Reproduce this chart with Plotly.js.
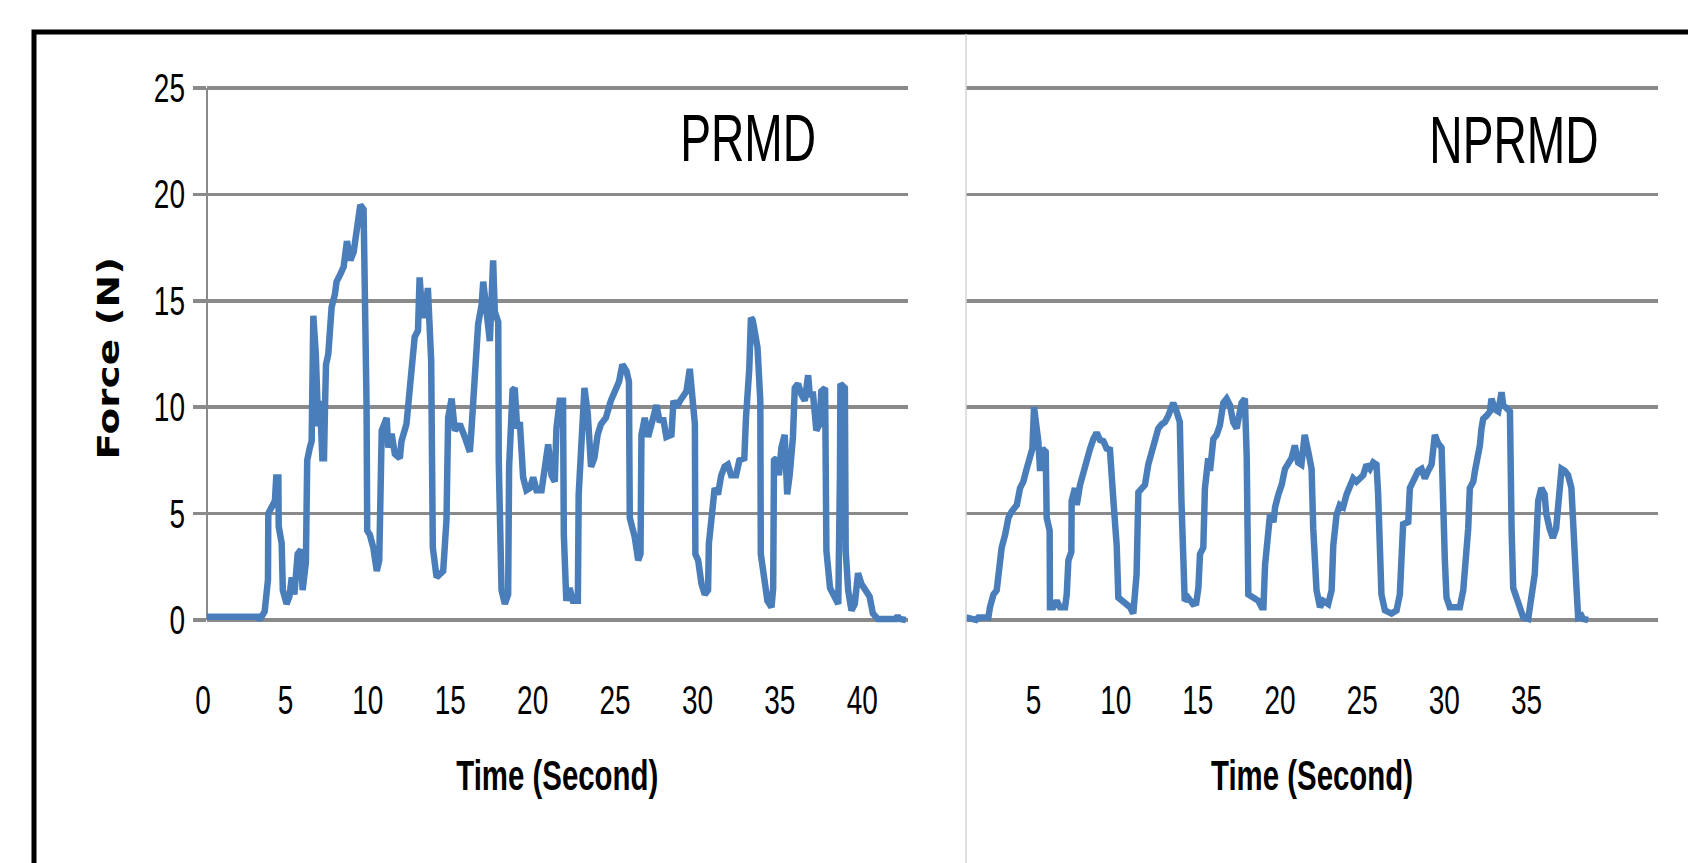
<!DOCTYPE html>
<html>
<head>
<meta charset="utf-8">
<script src="https://cdn.plot.ly/plotly-3.0.1.min.js"></script>
<style>
  html, body { margin: 0; padding: 0; background: #ffffff; }
  #chart { width: 1688px; height: 863px; }
</style>
</head>
<body>
<div id="chart"></div>
<script>
// ---- Data ----
const prmdTime = [0,3.1,3.2,3.5,3.7,3.72,3.92,4.12,4.2,4.33,4.35,4.53,4.6,4.83,5.0,5.14,5.3,5.5,5.7,5.8,6.0,6.08,6.24,6.35,6.45,6.6,6.75,6.85,7.0,7.1,7.16,7.22,7.36,7.46,7.56,7.76,7.86,8.06,8.29,8.49,8.7,8.9,9.1,9.3,9.5,9.6,9.68,9.72,9.88,10.09,10.3,10.45,10.5,10.6,10.9,11.0,11.2,11.4,11.7,11.8,12.1,12.3,12.4,12.6,12.8,12.9,13.0,13.2,13.4,13.5,13.6,13.7,13.93,14.33,14.53,14.63,14.84,15.04,15.34,15.64,15.95,16.05,16.25,16.35,16.45,16.66,16.76,16.96,17.16,17.26,17.36,17.46,17.67,17.7,17.87,18.07,18.27,18.33,18.54,18.67,18.82,18.98,19.18,19.38,19.59,19.79,19.99,20.3,20.5,20.7,20.9,21.1,21.2,21.4,21.6,21.65,21.8,22.0,22.2,22.5,22.55,22.7,22.8,22.9,23.1,23.3,23.5,23.7,23.9,24.2,24.5,24.7,25.0,25.2,25.45,25.6,25.65,25.95,26.16,26.3,26.36,26.56,26.76,26.97,27.27,27.47,27.67,27.87,28.18,28.3,28.5,28.7,28.9,29.09,29.29,29.45,29.6,29.63,29.8,30.0,30.2,30.4,30.45,30.6,30.8,31.0,31.2,31.4,31.6,31.8,32.1,32.3,32.6,32.7,32.9,33.0,33.1,33.2,33.3,33.4,33.57,33.6,33.8,34.0,34.25,34.35,34.4,34.55,34.7,34.85,35.05,35.2,35.35,35.55,35.66,35.86,36.06,36.27,36.47,36.57,36.77,36.97,37.17,37.27,37.5,37.58,37.8,38.0,38.3,38.4,38.43,38.7,38.75,38.9,39.1,39.3,39.5,39.7,39.9,40.2,40.4,40.7,41.8,41.9,42.0,42.4];
const prmdForce = [0.15,0.15,0.0,0.4,1.9,5.0,5.3,5.6,6.7,6.7,4.4,3.6,1.4,0.75,1.1,2.0,1.2,3.1,3.3,1.4,2.7,7.5,8.1,8.4,14.3,12.5,9.1,10.3,7.6,7.6,10.0,12.0,12.5,14.3,14.7,15.3,15.9,16.2,16.6,17.8,16.9,17.3,18.4,19.5,19.3,15.7,10.1,4.2,4.0,3.4,2.3,2.8,7.2,8.9,9.5,8.1,8.75,7.8,7.6,8.4,9.2,10.6,11.6,13.3,13.6,16.1,15.0,14.2,15.6,14.1,12.2,3.4,2.0,2.3,4.7,9.5,10.4,8.9,9.2,8.6,7.9,9.0,11.2,12.2,13.9,14.8,15.9,14.5,13.1,15.0,16.9,14.5,14.0,7.5,1.4,0.75,1.2,7.2,10.8,10.9,9.0,9.3,6.7,6.1,6.2,6.7,6.1,6.1,7.5,8.25,6.8,6.5,9.0,10.3,10.3,4.0,0.9,1.5,0.9,0.9,5.9,8.7,10.6,10.9,9.7,7.2,7.6,8.7,9.2,9.5,10.3,10.75,11.2,12.0,11.7,11.2,4.8,3.9,2.8,3.1,8.7,9.5,8.6,9.2,10.1,9.3,9.5,8.6,8.7,10.3,10.0,10.3,10.6,10.75,11.8,10.3,9.2,3.1,2.8,1.7,1.2,1.4,3.6,4.7,6.2,5.9,6.8,7.2,7.3,6.8,6.8,7.5,7.6,9.5,11.8,14.2,14.1,13.7,13.25,12.8,10.3,3.1,2.0,0.9,0.6,1.5,7.5,7.6,6.8,8.1,8.7,5.9,6.8,8.6,10.9,11.1,10.6,10.3,11.5,10.6,10.6,8.9,9.2,10.75,10.9,3.25,1.5,1.2,0.75,6.7,11.1,10.9,3.25,1.4,0.45,0.75,2.2,1.7,1.4,1.1,0.3,0.05,0.05,0.2,0.05,0.0];

const nprmdTime = [0.89,1.34,1.5,1.64,2.25,2.35,2.56,2.76,2.86,3.06,3.27,3.47,3.67,3.98,4.18,4.38,4.58,4.79,4.93,5.03,5.19,5.29,5.4,5.54,5.74,5.8,5.98,6.0,6.2,6.41,6.61,6.92,7.02,7.12,7.3,7.32,7.52,7.63,7.83,8.03,8.23,8.44,8.64,8.84,9.05,9.25,9.45,9.65,9.86,10.06,10.16,10.36,10.67,10.87,11.07,11.17,11.27,11.38,11.58,11.78,11.98,12.19,12.39,12.59,12.8,13.0,13.2,13.4,13.5,13.7,13.9,14.0,14.1,14.2,14.4,14.7,14.9,15.03,15.13,15.33,15.43,15.63,15.74,15.94,16.14,16.34,16.55,16.75,16.95,17.15,17.36,17.56,17.66,17.86,17.97,18.07,18.37,18.68,18.88,18.99,19.09,19.29,19.39,19.6,19.7,19.9,20.1,20.3,20.5,20.7,20.9,21.1,21.3,21.5,21.72,21.92,22.02,22.22,22.43,22.63,22.93,23.14,23.24,23.44,23.64,23.84,24.05,24.25,24.45,24.65,24.86,25.06,25.26,25.47,25.67,25.87,25.97,26.17,26.38,26.78,27.09,27.29,27.49,27.8,27.9,28.2,28.4,28.61,28.81,29.01,29.22,29.42,29.62,29.83,29.93,30.03,30.13,30.33,30.74,30.94,31.15,31.25,31.45,31.55,31.76,31.86,31.96,32.16,32.26,32.36,32.57,32.77,32.87,33.07,33.28,33.48,33.58,33.78,33.99,34.09,34.19,34.39,34.59,34.8,35.1,35.3,35.5,35.71,35.9,36.1,36.2,36.4,36.6,36.8,36.93,37.13,37.33,37.53,37.73,37.84,38.04,38.14,38.34,38.44,38.75];
const nprmdForce = [0.12,0.05,0.0,0.12,0.12,0.6,1.2,1.4,2.15,3.4,4.0,4.8,5.1,5.4,6.2,6.5,7.1,7.6,8.05,10.0,9.15,8.4,7.0,8.05,7.9,4.8,4.2,0.6,0.6,0.9,0.6,0.6,1.2,2.8,3.2,5.6,6.2,5.4,6.35,7.0,7.6,8.05,8.5,8.8,8.45,8.4,8.05,8.0,5.6,3.5,1.05,0.9,0.75,0.6,0.3,1.2,2.15,6.0,6.2,6.35,7.3,7.9,8.5,9.0,9.2,9.3,9.6,10.1,10.2,9.8,9.3,5.6,1.2,0.9,1.05,0.75,0.8,1.5,3.1,3.4,6.2,7.6,7.0,8.5,8.7,9.15,10.2,10.4,10.1,9.3,9.0,9.6,10.2,10.4,7.75,1.2,1.05,0.9,0.6,0.6,2.6,3.85,4.95,4.6,5.3,5.9,6.35,7.1,7.4,7.6,8.2,7.4,7.3,8.7,7.9,7.1,4.3,1.4,0.6,0.9,0.75,1.4,3.5,4.95,5.4,5.3,5.9,6.35,6.65,6.5,6.65,6.8,7.3,7.1,7.4,7.3,5.9,1.2,0.45,0.3,0.45,1.2,4.5,4.6,6.2,6.65,7.0,7.1,6.65,7.0,7.3,8.7,8.3,8.1,4.0,2.8,1.05,0.6,0.6,0.6,1.4,2.15,4.3,6.2,6.5,7.0,7.4,8.2,9.0,9.45,9.6,9.8,10.4,9.9,9.8,10.7,10.1,9.9,9.8,4.3,1.5,1.05,0.6,0.12,0.05,0.9,2.15,5.6,6.2,5.9,5.0,4.3,3.85,4.3,5.6,7.1,7.0,6.8,6.2,4.0,1.5,0.12,0.2,0.05,0.0];

const yTicks = [0, 5, 10, 15, 20, 25];
const xTicksLeft = [0, 5, 10, 15, 20, 25, 30, 35, 40];
const xTicksRight = [5, 10, 15, 20, 25, 30, 35];
const panelLabels = ['PRMD', 'NPRMD'];
const xTitle = 'Time (Second)';
const yTitle = 'Force (N)';

// ---- Styling ----
const W = 1688, H = 863;
const px = v => v / W;          // pixel -> paper x
const py = v => (H - v) / H;    // pixel -> paper y
const LINE = '#4a7ebb';
const GRID = '#8a8a8a';
const SANS = '"Liberation Sans", Arial, sans-serif';
const SQUEEZE = 0.7;            // the reference's text is horizontally condensed

const yDomain = [py(630.6), py(85.87)];
const yRange = [-0.5, 25.1];

const traces = [
  { x: prmdTime, y: prmdForce, type: 'scatter', mode: 'lines', xaxis: 'x', yaxis: 'y',
    line: { color: LINE, width: 6.5 }, hoverinfo: 'skip' },
  { x: nprmdTime, y: nprmdForce, type: 'scatter', mode: 'lines', xaxis: 'x2', yaxis: 'y2',
    line: { color: LINE, width: 6.5 }, hoverinfo: 'skip' }
];

const tickFont = { family: SANS, size: 40, color: '#000000' };
const xTitleFont = { family: SANS, size: 42, color: '#000000', weight: 'bold' };

const xCommon = {
  showgrid: false, zeroline: false, showline: false,
  ticks: 'outside', ticklen: 34, tickcolor: 'rgba(0,0,0,0)',
  tickfont: tickFont,
  title: { text: xTitle, font: xTitleFont, standoff: 40 },
  fixedrange: true
};

const layout = {
  width: W, height: H,
  margin: { l: 0, r: 0, t: 0, b: 0 },
  paper_bgcolor: '#ffffff', plot_bgcolor: 'rgba(0,0,0,0)',
  showlegend: false,
  xaxis: Object.assign({}, xCommon, {
    domain: [px(207), px(907.5)], range: [0, 42.5], anchor: 'y',
    tickmode: 'array', tickvals: xTicksLeft, ticktext: xTicksLeft.map(String),
    ticklabelshift: -4
  }),
  yaxis: {
    domain: yDomain, range: yRange, anchor: 'x',
    tickmode: 'array', tickvals: yTicks, ticktext: yTicks.map(String),
    showgrid: true, gridcolor: GRID, gridwidth: 3.5,
    zeroline: false, showline: false,
    ticks: 'outside', ticklen: 13, tickwidth: 3.5, tickcolor: GRID,
    tickfont: tickFont,
    title: { text: yTitle, font: { family: '"DejaVu Sans", Verdana, sans-serif', size: 39, color: '#000000', weight: 'bold' }, standoff: 5 },
    fixedrange: true
  },
  xaxis2: Object.assign({}, xCommon, {
    domain: [px(966), px(1658)], range: [0.89, 43.0], anchor: 'y2',
    tickmode: 'array', tickvals: xTicksRight, ticktext: xTicksRight.map(String)
  }),
  yaxis2: {
    domain: yDomain, range: yRange, anchor: 'x2',
    tickmode: 'array', tickvals: yTicks,
    showgrid: true, gridcolor: GRID, gridwidth: 3.5,
    zeroline: false, showline: false, ticks: '', showticklabels: false,
    fixedrange: true
  },
  annotations: [
    { text: panelLabels[0], xref: 'paper', yref: 'paper', x: px(748), y: py(138),
      xanchor: 'center', yanchor: 'middle', showarrow: false,
      font: { family: SANS, size: 66, color: '#000000' } },
    { text: panelLabels[1], xref: 'paper', yref: 'paper', x: px(1514), y: py(140),
      xanchor: 'center', yanchor: 'middle', showarrow: false,
      font: { family: SANS, size: 66, color: '#000000' } }
  ],
  shapes: [
    // outer black frame (top and left edges visible)
    { type: 'rect', xref: 'paper', yref: 'paper', x0: px(34), x1: 1.05, y0: -0.05, y1: py(32),
      line: { color: '#000000', width: 5 }, fillcolor: 'rgba(0,0,0,0)' },
    // light divider between the two charts
    { type: 'line', xref: 'paper', yref: 'paper', x0: px(966), x1: px(966), y0: -0.05, y1: py(34),
      line: { color: '#d4d4d4', width: 1.5 } },
    // left chart vertical axis line
    { type: 'line', xref: 'paper', yref: 'y', x0: px(207), x1: px(207), y0: 0, y1: 25,
      line: { color: GRID, width: 2 }, layer: 'below' }
  ]
};

// Condense rendered text the way the reference picture is condensed.
function squeeze(selector, sx, sy, pivot) {
  document.querySelectorAll(selector).forEach(el => {
    const bb = el.getBBox();
    const cx = pivot === 'right' ? bb.x + bb.width : bb.x + bb.width / 2;
    const cy = bb.y + bb.height / 2;
    const t = el.getAttribute('transform') || '';
    el.setAttribute('transform',
      `${t} translate(${cx},${cy}) scale(${sx},${sy}) translate(${-cx},${-cy})`);
  });
}

Plotly.newPlot('chart', traces, layout, { displayModeBar: false, staticPlot: true })
  .then(() => {
    squeeze('#chart .ytick text', SQUEEZE, 1, 'right');
    squeeze('#chart .xtick text', SQUEEZE, 1, 'center');
    squeeze('#chart .x2tick text', SQUEEZE, 1, 'center');
    squeeze('#chart .g-xtitle text', SQUEEZE, 1, 'center');
    squeeze('#chart .g-x2title text', SQUEEZE, 1, 'center');
    squeeze('#chart .annotation-text', SQUEEZE, 1, 'center');
    // rotated title: its thickness runs along the local y direction
    squeeze('#chart .g-ytitle text', 1, 0.76, 'center');
  });
</script>
</body>
</html>
